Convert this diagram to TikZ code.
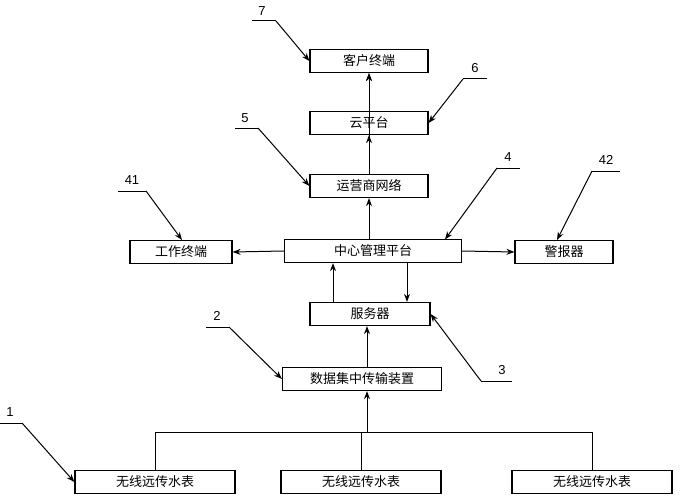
\documentclass[tikz,border=0pt]{standalone}
\usepackage{fontspec}
\setmainfont{Liberation Sans}
\newfontfamily\cjk{Noto Sans CJK SC}
\usetikzlibrary{arrows.meta}
\begin{document}
\begin{tikzpicture}[x=1pt,y=-1pt,
  bx/.style={draw,line width=1.2pt,inner sep=0pt,font=\cjk\fontsize{13}{13}\selectfont},
  ar/.style={line width=1pt,-{Stealth[length=8pt,width=6pt]}},
  ln/.style={line width=1pt},
  num/.style={font=\fontsize{13}{13}\selectfont}]
\useasboundingbox (0,0) rectangle (690,500);
\newcommand\bxat[5]{\node[bx,minimum width=#3,minimum height=23pt] (#1) at (#2) {#4};}
\bxat{kh}{369,61}{118pt}{客户终端}{}
\bxat{yun}{369,123}{118pt}{云平台}{}
\bxat{yy}{369,186}{118pt}{运营商网络}{}
\bxat{zx}{373,251}{177pt}{中心管理平台}{}
\bxat{gz}{181,252}{102pt}{工作终端}{}
\bxat{jb}{564,252}{98pt}{警报器}{}
\bxat{fw}{370,314}{120pt}{服务器}{}
\bxat{sj}{362,379}{159pt}{数据集中传输装置}{}
\bxat{m1}{155,482}{160pt}{无线远传水表}{}
\bxat{m2}{361,482}{160pt}{无线远传水表}{}
\bxat{m3}{592,482}{160pt}{无线远传水表}{}
\draw[ar] (yy) -- (yy.north|-kh.south) ;
\draw[ar] (yy.north) -- (yun.south);
\draw[ar] (yun.north) -- (kh.south);
\draw[ar] (zx.north-|yy.north) -- (yy.south);
\draw[ar] (zx.west) -- (gz.east);
\draw[ar] (zx.east) -- (jb.west);
\draw[ar] (fw.north-|333,0) -- (zx.south-|333,0);
\draw[ar] (zx.south-|407,0) -- (fw.north-|407,0);
\draw[ar] (sj.north-|367,0) -- (fw.south-|367,0);
\coordinate (b1) at (155,432); \coordinate (b2) at (361,432);
\coordinate (b3) at (592,432); \coordinate (bc) at (367,432);
\draw[ln] (b1) -- (b3);
\draw[ln] (b1) -- (m1.north); \draw[ln] (b2) -- (m2.north); \draw[ln] (b3) -- (m3.north);
\draw[ar] (bc) -- (sj.south-|bc);
% labels
\node[num] (n7) at (262,11) {7};
\draw[ln] (252,21) -- (276,21); \draw[ar] (276,21) -- (kh.west);
\node[num] (n6) at (475,68) {6};
\draw[ln] (463,79) -- (487,79); \draw[ar] (463,79) -- (yun.east);
\node[num] (n5) at (245,118) {5};
\draw[ln] (235,128) -- (258,128); \draw[ar] (258,128) -- (yy.west);
\node[num] (n4) at (508,157) {4};
\draw[ln] (497,168) -- (520,168); \draw[ar] (497,168) -- (445,239.5);
\node[num] (n41) at (132,180) {41};
\draw[ln] (118,191) -- (146,191); \draw[ar] (146,191) -- (182,240);
\node[num] (n42) at (606,160) {42};
\draw[ln] (592,171) -- (620,171); \draw[ar] (592,171) -- (557,240);
\node[num] (n2) at (217,316) {2};
\draw[ln] (206,327) -- (229,327); \draw[ar] (229,327) -- (sj.west);
\node[num] (n3) at (502,370) {3};
\draw[ln] (481,381) -- (512,381); \draw[ar] (481,381) -- (fw.east);
\node[num] (n1) at (10,412) {1};
\draw[ln] (0,423) -- (22,423); \draw[ar] (22,423) -- (m1.west);
\end{tikzpicture}
\end{document}
